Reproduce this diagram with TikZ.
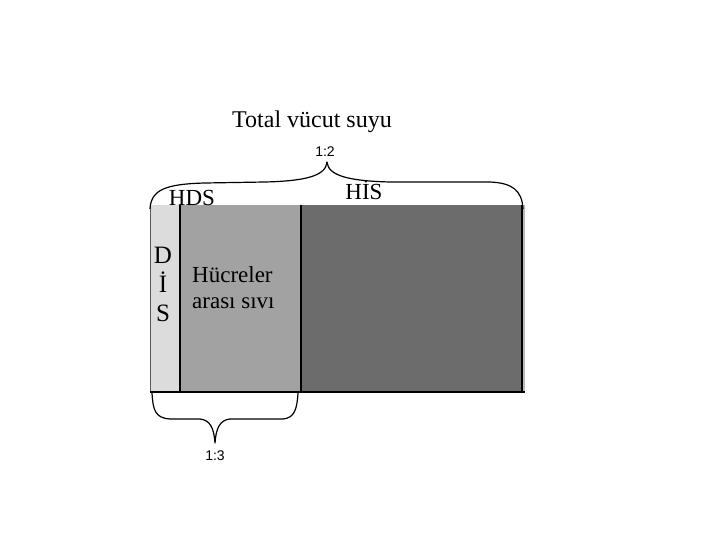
\documentclass[tikz,border=0pt]{standalone}
\usepackage{fontspec}
\setmainfont{Liberation Serif}
\newfontfamily\ratiofont{Liberation Sans}
\usepackage{tikz}
\usetikzlibrary{positioning}

\definecolor{disgray}{RGB}{220,220,220}
\definecolor{hasgray}{RGB}{162,162,162}
\definecolor{hisgray}{RGB}{108,108,108}

\begin{document}
\begin{tikzpicture}[
    x=1pt, y=-1pt,
    label/.style={font=\fontsize{23}{29}\selectfont, inner sep=0pt, anchor=base},
    ratio/.style={font=\ratiofont\fontsize{14}{16}\selectfont, inner sep=0pt},
    wall/.style={black, line width=1.6pt},
    brace/.style={black, line width=1.2pt, line join=round}
]
    % page frame (720 x 540 px)
    \useasboundingbox (0,0) rectangle (720,540);

    % Compartments: DIS | HAS (interstitial) | HIS
    \fill[disgray] (150,205) rectangle (180,392);
    \fill[hasgray] (180,205) rectangle (301,392);
    \fill[hisgray] (301,205) rectangle (522,392);
    \fill[gray!55] (522,205) rectangle (525,392);
    \draw[gray!70!black, line width=1pt] (150.5,205) -- (150.5,392);
    \draw[wall] (180,205) -- (180,392);
    \draw[wall] (301,205) -- (301,392);
    \draw[wall] (522,205) -- (522,392);
    \draw[wall] (150,392) -- (525,392);

    % Top brace (1:2)
    \draw[brace] (150,209) .. controls (151,190) and (165,184) .. (205,183)
        -- (265,182) .. controls (305,181) and (326,176) .. (327,162)
        .. controls (328,176) and (350,181) .. (390,182)
        -- (490,182) .. controls (512,183) and (522,190) .. (523,209);
    \node[ratio] (topratio) at (325,152) {1:2};

    % Bottom brace (1:3)
    \draw[brace] (152,393) .. controls (153,410) and (155,418) .. (170,419)
        -- (200,419) .. controls (210,420) and (214,428) .. (215,443)
        .. controls (216,428) and (220,420) .. (230,419)
        -- (283,419) .. controls (294,418) and (297,410) .. (298,393);
    \node[ratio] (botratio) at (215,456) {1:3};

    % Labels
    \node[label, font=\fontsize{24}{29}\selectfont] (total) at (312,128) {Total vücut suyu};
    \node[label] (hds) at (192,206) {HDS};
    \node[label] (his) at (364,200) {HİS};
    \node[label, font=\fontsize{25}{29}\selectfont] (dis1) at (163,263) {D};
    \node[label, font=\fontsize{25}{29}\selectfont] (dis2) at (163,292) {İ};
    \node[label, font=\fontsize{25}{29}\selectfont] (dis3) at (163,321) {S};
    \node[label, anchor=base west] (has1) at (192,282) {Hücreler};
    \node[label, anchor=base west] (has2) at (192,308) {arası sıvı};

\end{tikzpicture}
\end{document}
